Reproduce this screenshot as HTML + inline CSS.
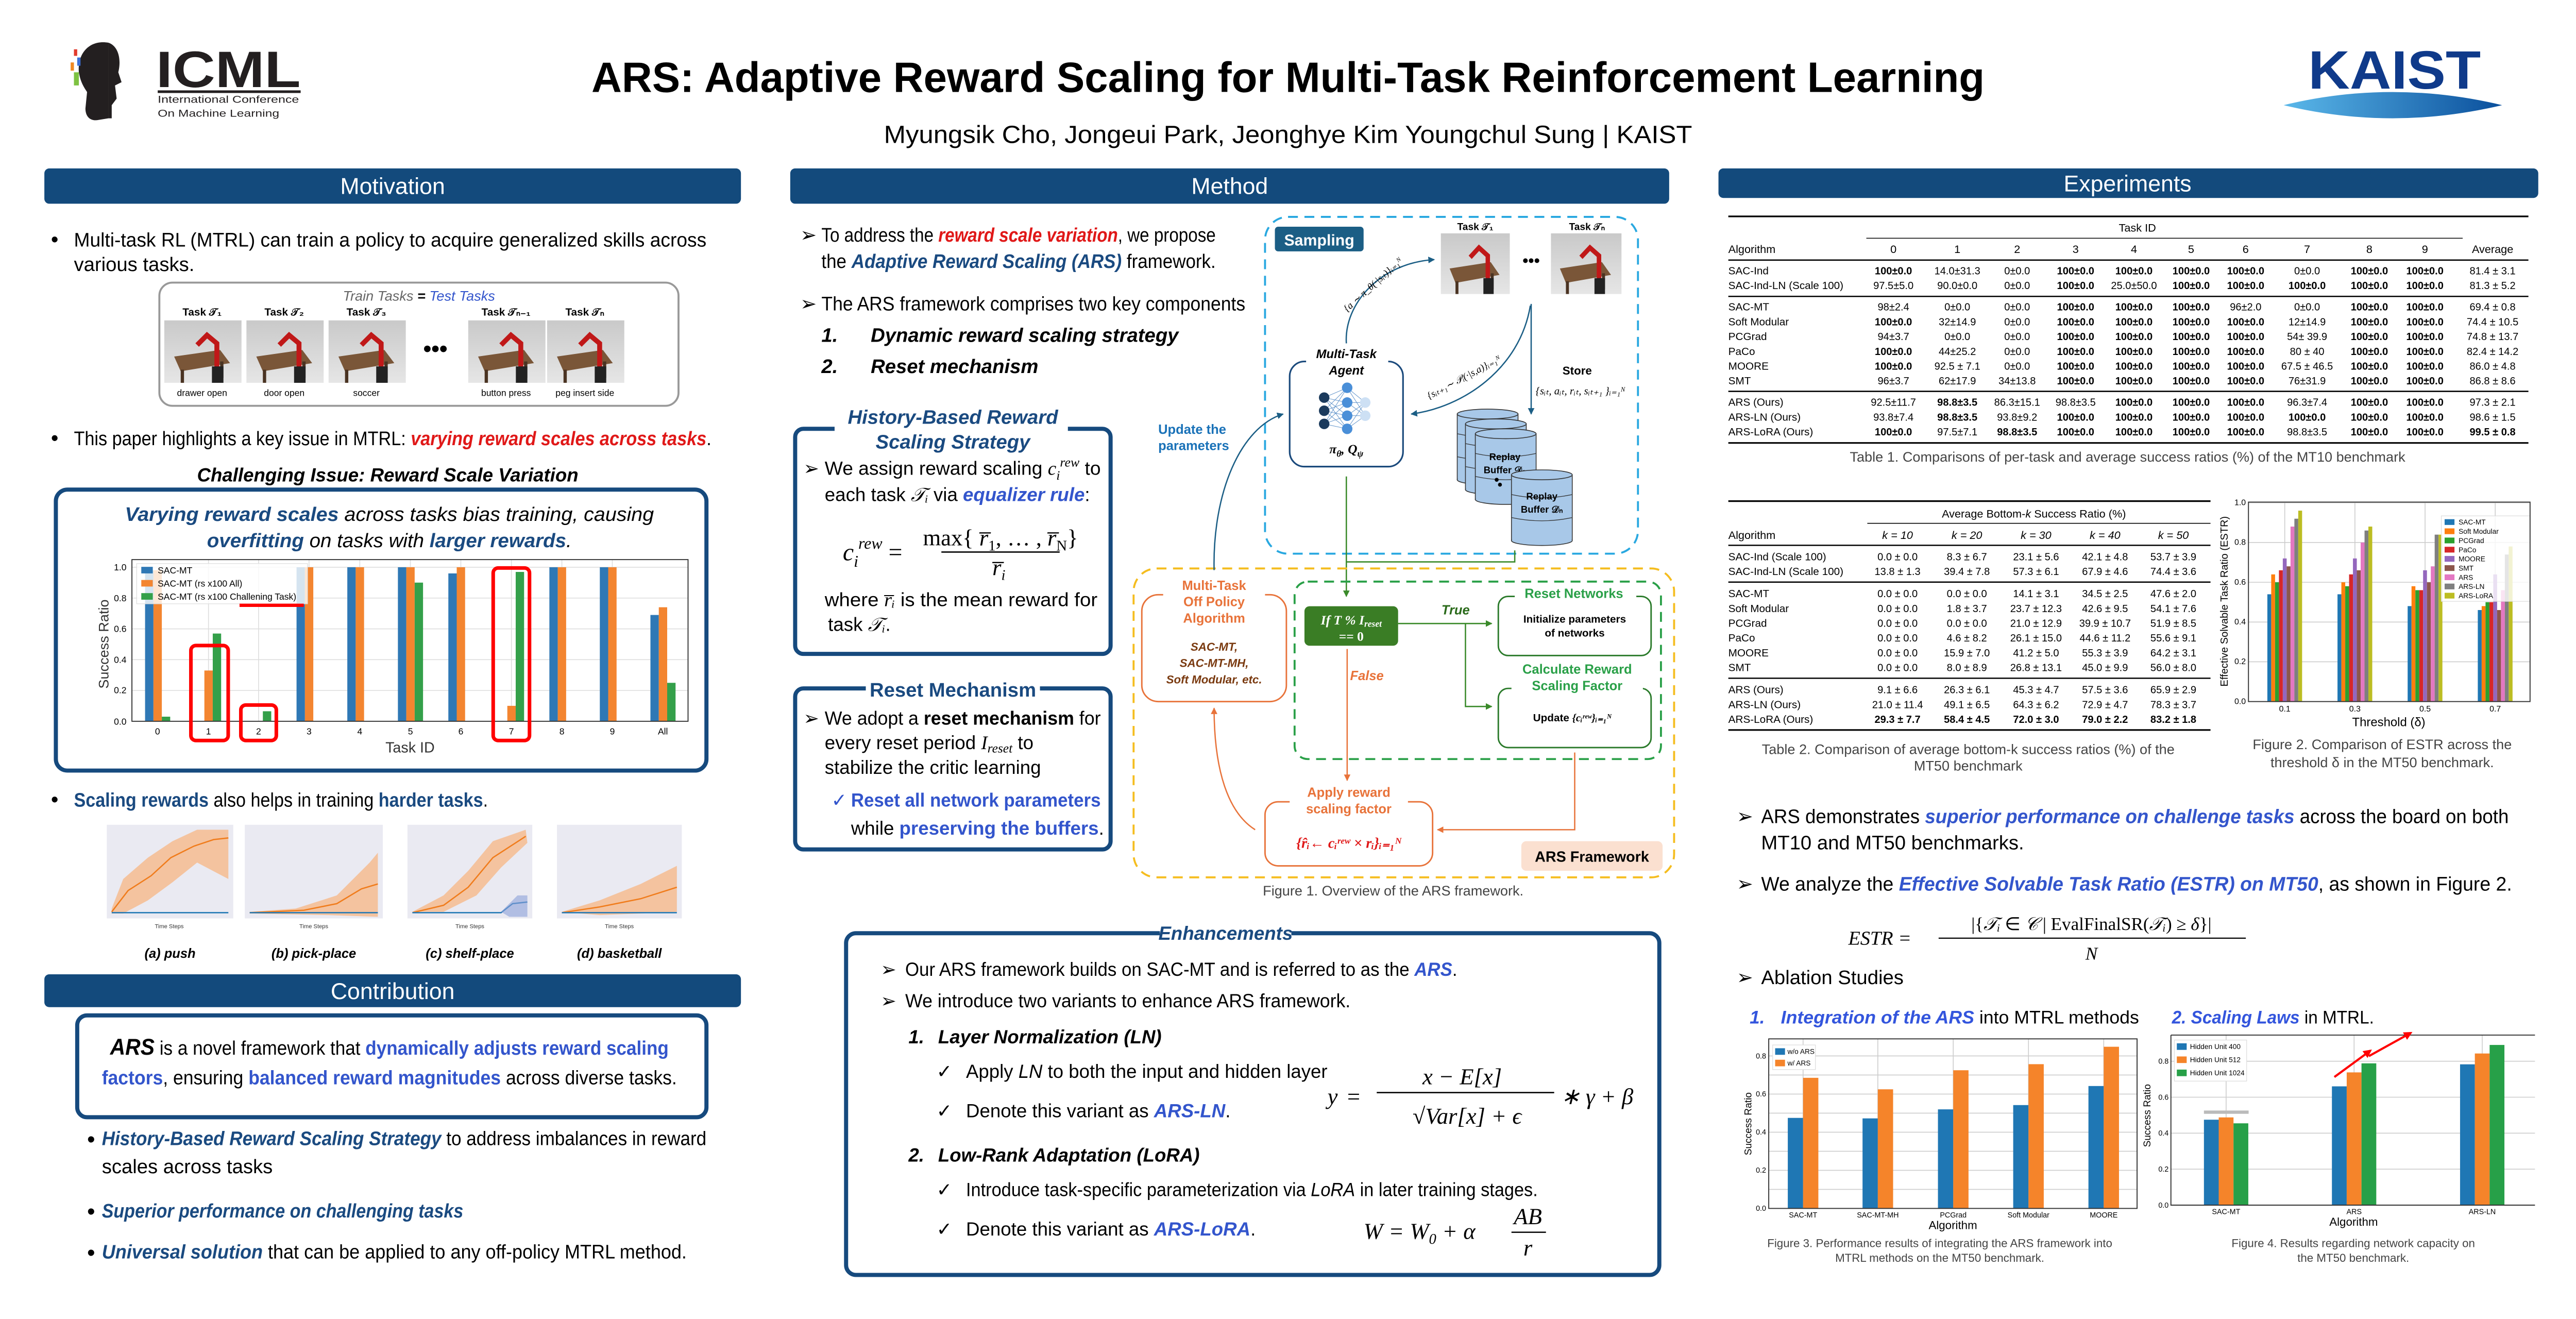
<!DOCTYPE html>
<html><head><meta charset="utf-8">
<style>
html,body{margin:0;padding:0;background:#fff;}
body{width:5120px;height:2560px;overflow:hidden;}
svg{display:block;}
text{font-family:"Liberation Sans",sans-serif;}
.s{font-family:"Liberation Serif",serif;}
</style></head>
<body>
<svg width="5120" height="2560" viewBox="0 0 1605.6 802.8" xmlns="http://www.w3.org/2000/svg">
<defs>
<marker id="ab" viewBox="0 0 10 10" refX="9" refY="5" markerWidth="5" markerHeight="5" orient="auto"><path d="M0,0 L10,5 L0,10 z" fill="#1b5e85"/></marker>
<marker id="ag" viewBox="0 0 10 10" refX="9" refY="5" markerWidth="5" markerHeight="5" orient="auto"><path d="M0,0 L10,5 L0,10 z" fill="#3a8a2a"/></marker>
<marker id="ao" viewBox="0 0 10 10" refX="9" refY="5" markerWidth="5" markerHeight="5" orient="auto"><path d="M0,0 L10,5 L0,10 z" fill="#e8733a"/></marker>
<marker id="ar" viewBox="0 0 10 10" refX="8" refY="5" markerWidth="4" markerHeight="4" orient="auto"><path d="M0,0 L10,5 L0,10 z" fill="#ff0000"/></marker>
<linearGradient id="eye" x1="0" x2="1"><stop offset="0" stop-color="#5bb8ea"/><stop offset="1" stop-color="#0a4f9c"/></linearGradient>
<linearGradient id="scene" x1="0" y1="0" x2="0" y2="1"><stop offset="0" stop-color="#c9c9c9"/><stop offset="1" stop-color="#e6e6e6"/></linearGradient>
<g id="img">
<rect width="47" height="38" fill="url(#scene)"/>
<polygon points="6,22 34,18 40,26 10,31" fill="#7a5638"/>
<rect x="10" y="30" width="2" height="8" fill="#4a3322"/><rect x="34" y="25" width="2" height="10" fill="#4a3322"/>
<path d="M32,30 L32,14 L26,9 L20,15" stroke="#c01818" stroke-width="3" fill="none"/>
<rect x="29" y="28" width="7" height="10" fill="#222"/>
</g>
<g id="cyl">
<rect x="0" y="3" width="37" height="40" fill="#a8c8e8" stroke="#333" stroke-width=".5"/>
<ellipse cx="18.5" cy="43" rx="18.5" ry="3" fill="#a8c8e8" stroke="#333" stroke-width=".5"/>
<rect x="0.3" y="3" width="36.4" height="40" fill="#a8c8e8"/>
<ellipse cx="18.5" cy="3" rx="18.5" ry="3" fill="#a8c8e8" stroke="#333" stroke-width=".5"/>
<path d="M0,15 Q18.5,19 37,15 M0,29 Q18.5,33 37,29" stroke="#333" stroke-width=".4" fill="none"/>
</g>
</defs>

<!-- HEADER -->
<path d="M66,26 C54,24 47,33 48,44 C49,50 51,53 53,56 L52,66 C52,71 55,74 60,73 L66,72 L66,26 z" fill="#231f20"/>
<path d="M66,26 C72,28 74,36 72,44 L74,50 L70,52 L71,60 L68,64 L68,72 L66,72z" fill="#231f20"/>
<rect x="45" y="30" width="2" height="4" fill="#e23b2e"/><rect x="47" y="35" width="2" height="5" fill="#3b6fd6"/>
<rect x="43" y="38" width="2" height="5" fill="#f08a24"/><rect x="45" y="44" width="3" height="8" fill="#7ec242"/>
<text x="95" y="53" font-size="31" font-weight="bold" fill="#231f20" textLength="88" lengthAdjust="spacingAndGlyphs">ICML</text>
<rect x="96" y="55" width="87" height="1.6" fill="#231f20"/>
<text x="96" y="62.5" font-size="6" fill="#231f20" textLength="86" lengthAdjust="spacingAndGlyphs">International Conference</text>
<text x="96" y="71" font-size="6" fill="#231f20" textLength="74" lengthAdjust="spacingAndGlyphs">On Machine Learning</text>

<text x="360" y="56" font-size="26" font-weight="bold" fill="#000" textLength="848" lengthAdjust="spacingAndGlyphs">ARS: Adaptive Reward Scaling for Multi-Task Reinforcement Learning</text>
<text x="538" y="87" font-size="15" fill="#000" textLength="492" lengthAdjust="spacingAndGlyphs">Myungsik Cho, Jongeui Park, Jeonghye Kim Youngchul Sung | KAIST</text>

<text x="1405" y="54" font-size="33" font-weight="bold" fill="#0f3a8a" textLength="105" lengthAdjust="spacingAndGlyphs">KAIST</text>
<path d="M1390,64 Q1456,48 1523,64 Q1456,80 1390,64 z" fill="url(#eye)"/>

<!-- SECTION BARS -->
<rect x="27" y="102.5" width="424" height="21.5" rx="3" fill="#134a7c"/>
<text x="239" y="118" font-size="14" fill="#fff" text-anchor="middle">Motivation</text>
<rect x="481" y="102.5" width="535" height="21.5" rx="3" fill="#134a7c"/>
<text x="748.5" y="118" font-size="14" fill="#fff" text-anchor="middle">Method</text>
<rect x="1046" y="102.5" width="499" height="18" rx="3" fill="#134a7c"/>
<text x="1295" y="116.5" font-size="14" fill="#fff" text-anchor="middle">Experiments</text>

<!-- LEFT COLUMN -->
<text x="31" y="150" font-size="13">•</text>
<text x="45" y="150" font-size="12" textLength="385" lengthAdjust="spacingAndGlyphs">Multi-task RL (MTRL) can train a policy to acquire generalized skills across</text>
<text x="45" y="165" font-size="12">various tasks.</text>

<rect x="97" y="172" width="316" height="75" rx="8" fill="#fff" stroke="#999" stroke-width="1.2"/>
<rect x="190" y="175" width="130" height="10" fill="#fff"/>
<text x="255" y="183" font-size="8.5" font-style="italic" text-anchor="middle" fill="#666"><tspan>Train Tasks</tspan><tspan fill="#000" font-weight="bold"> = </tspan><tspan fill="#3355cc">Test Tasks</tspan></text>
<text x="123" y="192" font-size="6.5" font-weight="bold" text-anchor="middle">Task 𝒯₁</text>
<text x="173" y="192" font-size="6.5" font-weight="bold" text-anchor="middle">Task 𝒯₂</text>
<text x="223" y="192" font-size="6.5" font-weight="bold" text-anchor="middle">Task 𝒯₃</text>
<text x="308" y="192" font-size="6.5" font-weight="bold" text-anchor="middle">Task 𝒯ₙ₋₁</text>
<text x="356" y="192" font-size="6.5" font-weight="bold" text-anchor="middle">Task 𝒯ₙ</text>
<use href="#img" x="100" y="195"/><use href="#img" x="150" y="195"/><use href="#img" x="200" y="195"/>
<use href="#img" x="285" y="195"/><use href="#img" x="333" y="195"/>
<text x="265" y="217" font-size="14" font-weight="bold" text-anchor="middle">•••</text>
<text x="123" y="241" font-size="5.5" text-anchor="middle">drawer open</text>
<text x="173" y="241" font-size="5.5" text-anchor="middle">door open</text>
<text x="223" y="241" font-size="5.5" text-anchor="middle">soccer</text>
<text x="308" y="241" font-size="5.5" text-anchor="middle">button press</text>
<text x="356" y="241" font-size="5.5" text-anchor="middle">peg insert side</text>

<text x="31" y="271" font-size="13">•</text>
<text x="45" y="271" font-size="12" textLength="388" lengthAdjust="spacingAndGlyphs">This paper highlights a key issue in MTRL: <tspan fill="#e01818" font-weight="bold" font-style="italic">varying reward scales across tasks</tspan>.</text>
<text x="236" y="293" font-size="11.5" font-weight="bold" font-style="italic" text-anchor="middle">Challenging Issue: Reward Scale Variation</text>

<rect x="34" y="298" width="396" height="171" rx="7" fill="#fff" stroke="#164a7e" stroke-width="2.5"/>
<text x="237" y="317" font-size="12" font-style="italic" text-anchor="middle" textLength="322" lengthAdjust="spacingAndGlyphs"><tspan fill="#1a4a80" font-weight="bold">Varying reward scales</tspan> across tasks bias training, causing</text>
<text x="237" y="333" font-size="12" font-style="italic" text-anchor="middle" textLength="222" lengthAdjust="spacingAndGlyphs"><tspan fill="#1a4a80" font-weight="bold">overfitting</tspan> on tasks with <tspan fill="#1a4a80" font-weight="bold">larger rewards</tspan>.</text>
<!-- chart 1 -->
<g stroke="#ddd" stroke-width=".5">
<line x1="80.3" x2="418.8" y1="420.25" y2="420.25"/><line x1="80.3" x2="418.8" y1="401.5" y2="401.5"/><line x1="80.3" x2="418.8" y1="382.75" y2="382.75"/><line x1="80.3" x2="418.8" y1="364" y2="364"/><line x1="80.3" x2="418.8" y1="345.25" y2="345.25"/>
<line x1="126.9" x2="126.9" y1="340.6" y2="439"/><line x1="157.4" x2="157.4" y1="340.6" y2="439"/><line x1="188.1" x2="188.1" y1="340.6" y2="439"/><line x1="219" x2="219" y1="340.6" y2="439"/><line x1="249.8" x2="249.8" y1="340.6" y2="439"/><line x1="280.5" x2="280.5" y1="340.6" y2="439"/><line x1="311.3" x2="311.3" y1="340.6" y2="439"/><line x1="342" x2="342" y1="340.6" y2="439"/><line x1="372.7" x2="372.7" y1="340.6" y2="439"/>
</g>
<g>
<rect x="88.3" y="347.1" width="5.1" height="91.9" fill="#2f78b5"/><rect x="93.4" y="347.1" width="5.1" height="91.9" fill="#f38530"/><rect x="98.5" y="436.2" width="5.1" height="2.8" fill="#34a04a"/>
<rect x="124.4" y="408.1" width="5.1" height="30.9" fill="#f38530"/><rect x="129.5" y="385.6" width="5.1" height="53.4" fill="#34a04a"/>
<rect x="160" y="432.9" width="5.1" height="6.1" fill="#34a04a"/>
<rect x="180.5" y="345.25" width="5.1" height="93.75" fill="#2f78b5"/><rect x="185.6" y="345.25" width="5.1" height="93.75" fill="#f38530"/>
<rect x="211.4" y="345.25" width="5.1" height="93.75" fill="#2f78b5"/><rect x="216.5" y="345.25" width="5.1" height="93.75" fill="#f38530"/>
<rect x="242.2" y="345.25" width="5.1" height="93.75" fill="#2f78b5"/><rect x="247.3" y="345.25" width="5.1" height="93.75" fill="#f38530"/><rect x="252.4" y="354.6" width="5.1" height="84.4" fill="#34a04a"/>
<rect x="272.9" y="349" width="5.1" height="90" fill="#2f78b5"/><rect x="278" y="345.25" width="5.1" height="93.75" fill="#f38530"/>
<rect x="308.8" y="429.6" width="5.1" height="9.4" fill="#f38530"/><rect x="313.9" y="348.1" width="5.1" height="90.9" fill="#34a04a"/>
<rect x="334.4" y="345.25" width="5.1" height="93.75" fill="#2f78b5"/><rect x="339.5" y="345.25" width="5.1" height="93.75" fill="#f38530"/>
<rect x="365.1" y="345.25" width="5.1" height="93.75" fill="#2f78b5"/><rect x="370.2" y="345.25" width="5.1" height="93.75" fill="#f38530"/>
<rect x="395.9" y="374.3" width="5.1" height="64.7" fill="#2f78b5"/><rect x="401" y="369.6" width="5.1" height="69.4" fill="#f38530"/><rect x="406.1" y="415.6" width="5.1" height="23.4" fill="#34a04a"/>
</g>
<rect x="80.3" y="340.6" width="338.5" height="98.4" fill="none" stroke="#333" stroke-width=".6"/>
<rect x="83.2" y="343" width="104" height="24.5" fill="#fff" fill-opacity=".8" stroke="#ddd" stroke-width=".4"/>
<rect x="86" y="345" width="7" height="4" fill="#2f78b5"/><text x="96" y="349" font-size="5.5">SAC-MT</text>
<rect x="86" y="353" width="7" height="4" fill="#f38530"/><text x="96" y="357" font-size="5.5">SAC-MT (rs x100 All)</text>
<rect x="86" y="361" width="7" height="4" fill="#34a04a"/><text x="96" y="365" font-size="5.5">SAC-MT (rs x100 Challening Task)</text>
<line x1="145.8" x2="184.9" y1="368.4" y2="368.4" stroke="#f00" stroke-width="2"/>
<g fill="none" stroke="#f00" stroke-width="2.2">
<rect x="116.2" y="392.9" width="22.7" height="57.8" rx="3"/>
<rect x="146.6" y="429.1" width="21.6" height="21.6" rx="3"/>
<rect x="300.2" y="345.7" width="22.1" height="105" rx="3"/>
</g>
<g font-size="5.5" text-anchor="end"><text x="77" y="441">0.0</text><text x="77" y="422">0.2</text><text x="77" y="403.5">0.4</text><text x="77" y="384.7">0.6</text><text x="77" y="366">0.8</text><text x="77" y="347.2">1.0</text></g>
<g font-size="5.5" text-anchor="middle"><text x="95.9" y="447">0</text><text x="126.9" y="447">1</text><text x="157.4" y="447">2</text><text x="188.1" y="447">3</text><text x="219" y="447">4</text><text x="249.8" y="447">5</text><text x="280.5" y="447">6</text><text x="311.3" y="447">7</text><text x="342" y="447">8</text><text x="372.7" y="447">9</text><text x="403.5" y="447">All</text></g>
<text x="249.6" y="458" font-size="9" text-anchor="middle" fill="#333">Task ID</text>
<text transform="translate(66,392) rotate(-90)" font-size="8.5" text-anchor="middle" fill="#333">Success Ratio</text>

<text x="31" y="491" font-size="13">•</text>
<text x="45" y="491" font-size="12" textLength="252" lengthAdjust="spacingAndGlyphs"><tspan fill="#1a4a80" font-weight="bold">Scaling rewards</tspan> also helps in training <tspan fill="#1a4a80" font-weight="bold">harder tasks</tspan>.</text>

<!-- 4 small plots -->
<g>
<rect x="65" y="502" width="77" height="57" fill="#eaeaf2"/>
<path d="M68,553 L75,535 L90,522 L105,512 L120,505 L139,505 L139,535 L120,525 L105,537 L90,548 L75,556 L68,556z" fill="#f6b98a" opacity=".8"/>
<path d="M68,555 L78,542 L92,533 L104,522 L118,515 L130,511 L139,510" stroke="#f07c1c" stroke-width=".8" fill="none"/>
<line x1="68" x2="139" y1="555.5" y2="555.5" stroke="#1f77b4" stroke-width=".8"/>
<rect x="149" y="502" width="84" height="57" fill="#eaeaf2"/>
<path d="M152,555 L180,553 L205,545 L225,525 L230,519 L230,558 L200,557 L152,556z" fill="#f6b98a" opacity=".8"/>
<path d="M152,555.5 L185,554 L205,550 L220,541 L230,538" stroke="#f07c1c" stroke-width=".8" fill="none"/>
<line x1="152" x2="230" y1="555.5" y2="555.5" stroke="#1f77b4" stroke-width=".8"/>
<rect x="248" y="502" width="76" height="57" fill="#eaeaf2"/>
<path d="M251,555 L270,545 L285,530 L300,512 L320,505 L321,513 L305,528 L290,545 L270,555z" fill="#f6b98a" opacity=".8"/>
<path d="M251,555.5 L270,551 L285,540 L300,522 L320,509" stroke="#f07c1c" stroke-width=".8" fill="none"/>
<path d="M251,555.5 L305,555.5 L312,550 L321,549" stroke="#1f77b4" stroke-width=".8" fill="none"/>
<path d="M305,555 L315,545 L321,545 L321,558 L310,558z" fill="#8aa0d8" opacity=".6"/>
<rect x="339" y="502" width="76" height="57" fill="#eaeaf2"/>
<path d="M342,555 L365,548 L390,538 L412,527 L412,555 L390,556 L365,557z" fill="#f6b98a" opacity=".8"/>
<path d="M342,555.5 L365,552 L390,547 L412,540" stroke="#f07c1c" stroke-width=".8" fill="none"/>
<line x1="342" x2="412" y1="555.5" y2="555.5" stroke="#1f77b4" stroke-width=".8"/>
</g>
<g font-size="3.5" fill="#333" text-anchor="middle"><text x="103" y="565">Time Steps</text><text x="191" y="565">Time Steps</text><text x="286" y="565">Time Steps</text><text x="377" y="565">Time Steps</text></g>
<g font-size="8" font-weight="bold" font-style="italic" text-anchor="middle"><text x="103.5" y="583">(a) push</text><text x="191" y="583">(b) pick-place</text><text x="286" y="583">(c) shelf-place</text><text x="377" y="583">(d) basketball</text></g>

<rect x="27" y="593" width="424" height="20" rx="3" fill="#134a7c"/>
<text x="239" y="608" font-size="14" fill="#fff" text-anchor="middle">Contribution</text>
<rect x="47" y="618" width="383" height="62" rx="6" fill="#fff" stroke="#164a7e" stroke-width="2.5"/>
<text x="237" y="642" font-size="12" text-anchor="middle" textLength="340" lengthAdjust="spacingAndGlyphs"><tspan font-size="14" font-weight="bold" font-style="italic">ARS</tspan> is a novel framework that <tspan fill="#3355cc" font-weight="bold">dynamically adjusts reward scaling</tspan></text>
<text x="237" y="660" font-size="12" text-anchor="middle" textLength="350" lengthAdjust="spacingAndGlyphs"><tspan fill="#3355cc" font-weight="bold">factors</tspan>, ensuring <tspan fill="#3355cc" font-weight="bold">balanced reward magnitudes</tspan> across diverse tasks.</text>

<text x="53" y="698" font-size="14">•</text>
<text x="62" y="697" font-size="12" textLength="368" lengthAdjust="spacingAndGlyphs"><tspan fill="#1a4a80" font-weight="bold" font-style="italic">History-Based Reward Scaling Strategy</tspan> to address imbalances in reward</text>
<text x="62" y="714" font-size="12">scales across tasks</text>
<text x="53" y="742" font-size="14">•</text>
<text x="62" y="741" font-size="12" fill="#1a4a80" font-weight="bold" font-style="italic" textLength="220" lengthAdjust="spacingAndGlyphs">Superior performance on challenging tasks</text>
<text x="53" y="767" font-size="14">•</text>
<text x="62" y="766" font-size="12" textLength="356" lengthAdjust="spacingAndGlyphs"><tspan fill="#1a4a80" font-weight="bold" font-style="italic">Universal solution</tspan> that can be applied to any off-policy MTRL method.</text>

<!-- MIDDLE COLUMN -->
<g font-size="12">
<text x="487" y="147">➢</text>
<text x="500" y="147" textLength="240" lengthAdjust="spacingAndGlyphs">To address the <tspan fill="#e01818" font-weight="bold" font-style="italic">reward scale variation</tspan>, we propose</text>
<text x="500" y="163" textLength="240" lengthAdjust="spacingAndGlyphs">the <tspan fill="#1a4a80" font-weight="bold" font-style="italic">Adaptive Reward Scaling (ARS)</tspan> framework.</text>
<text x="487" y="189">➢</text>
<text x="500" y="189" textLength="258" lengthAdjust="spacingAndGlyphs">The ARS framework comprises two key components</text>
<text x="500" y="208" font-weight="bold" font-style="italic">1.</text><text x="530" y="208" font-weight="bold" font-style="italic">Dynamic reward scaling strategy</text>
<text x="500" y="227" font-weight="bold" font-style="italic">2.</text><text x="530" y="227" font-weight="bold" font-style="italic">Reset mechanism</text>
</g>

<rect x="484" y="261" width="192" height="137" rx="5" fill="#fff" stroke="#164a7e" stroke-width="2.5"/>
<rect x="508" y="250" width="142" height="20" fill="#fff"/>
<text x="580" y="258" font-size="12" font-weight="bold" font-style="italic" fill="#1a4a80" text-anchor="middle">History-Based Reward</text>
<text x="580" y="273" font-size="12" font-weight="bold" font-style="italic" fill="#1a4a80" text-anchor="middle">Scaling Strategy</text>
<g font-size="11.5">
<text x="489" y="289">➢</text>
<text x="502" y="289" textLength="168" lengthAdjust="spacingAndGlyphs">We assign reward scaling <tspan class="s" font-style="italic">c<tspan font-size="8" dy="3">i</tspan><tspan font-size="8" dy="-8">rew</tspan></tspan><tspan dy="5"> to</tspan></text>
<text x="502" y="305">each task <tspan class="s" font-style="italic">𝒯ᵢ</tspan> via <tspan fill="#3355cc" font-weight="bold" font-style="italic">equalizer rule</tspan>:</text>
</g>
<text x="513" y="341" class="s" font-size="15" font-style="italic">c<tspan font-size="10" dy="4">i</tspan><tspan font-size="10" dy="-11">rew</tspan><tspan dy="7" font-style="normal"> =</tspan></text>
<text x="609" y="332" class="s" font-size="14" text-anchor="middle">max{ <tspan font-style="italic">r̅</tspan><tspan font-size="9" dy="3">1</tspan><tspan dy="-3">, … , </tspan><tspan font-style="italic">r̅</tspan><tspan font-size="9" dy="3">N</tspan><tspan dy="-3">}</tspan></text>
<line x1="573" x2="645" y1="336" y2="336" stroke="#000" stroke-width=".8"/>
<text x="608" y="350" class="s" font-size="14" font-style="italic" text-anchor="middle">r̅<tspan font-size="9" dy="3">i</tspan></text>
<text x="502" y="369" font-size="11.5" textLength="166" lengthAdjust="spacingAndGlyphs">where <tspan class="s" font-style="italic">r̅ᵢ</tspan> is the mean reward for</text>
<text x="504" y="384" font-size="11.5">task <tspan class="s" font-style="italic">𝒯ᵢ</tspan>.</text>

<rect x="484" y="419" width="192" height="98" rx="5" fill="#fff" stroke="#164a7e" stroke-width="2.5"/>
<rect x="527" y="412" width="106" height="14" fill="#fff"/>
<text x="580" y="424" font-size="12" font-weight="bold" fill="#1a4a80" text-anchor="middle">Reset  Mechanism</text>
<g font-size="11.5">
<text x="489" y="441">➢</text>
<text x="502" y="441" textLength="168" lengthAdjust="spacingAndGlyphs">We adopt a <tspan font-weight="bold">reset mechanism</tspan> for</text>
<text x="502" y="456">every reset period <tspan class="s" font-style="italic">I<tspan font-size="8" dy="2">reset</tspan></tspan><tspan dy="-2"> to</tspan></text>
<text x="502" y="471">stabilize the critic learning</text>
<text x="506" y="491" fill="#3355cc">✓</text>
<text x="518" y="491" fill="#3355cc" font-weight="bold" textLength="152" lengthAdjust="spacingAndGlyphs">Reset all network parameters</text>
<text x="518" y="508">while <tspan fill="#3355cc" font-weight="bold">preserving the buffers</tspan>.</text>
</g>

<!-- DIAGRAM -->
<rect x="770" y="132" width="227" height="205" rx="14" fill="none" stroke="#29a8e0" stroke-width="1.2" stroke-dasharray="6,4"/>
<rect x="776" y="138" width="54" height="15" rx="2" fill="#1b5e85"/>
<text x="803" y="149.5" font-size="9.5" font-weight="bold" fill="#fff" text-anchor="middle">Sampling</text>
<text x="898" y="140" font-size="6" font-weight="bold" text-anchor="middle">Task 𝒯₁</text>
<text x="966" y="140" font-size="6" font-weight="bold" text-anchor="middle">Task 𝒯ₙ</text>
<svg x="877" y="142" width="42" height="37" viewBox="0 0 47 38" preserveAspectRatio="none"><use href="#img"/></svg>
<svg x="944" y="142" width="43" height="37" viewBox="0 0 47 38" preserveAspectRatio="none"><use href="#img"/></svg>
<text x="932" y="162" font-size="10" font-weight="bold" text-anchor="middle">•••</text>
<path d="M819.5,209 C818,185 840,160 873,158" stroke="#1b5e85" stroke-width=".8" fill="none" marker-end="url(#ab)"/>
<text transform="translate(820,190) rotate(-42)" class="s" font-size="6" font-style="italic">{a ∼ π_θ(·|sᵢₜ)}ᵢ₌₁ᴺ</text>
<path d="M931.5,186 C925,225 890,248 859,252" stroke="#1b5e85" stroke-width=".8" fill="none" marker-end="url(#ab)"/>
<text transform="translate(870,243) rotate(-28)" class="s" font-size="6" font-style="italic">{sᵢₜ₊₁∼ 𝒫ᵢ(·|s,a)}ᵢ₌₁ᴺ</text>
<line x1="932" y1="185" x2="932" y2="252" stroke="#1b5e85" stroke-width=".8" marker-end="url(#ab)"/>
<text x="960" y="228" font-size="7" font-weight="bold" text-anchor="middle">Store</text>
<text x="962" y="240" class="s" font-size="6.5" font-style="italic" text-anchor="middle">{sᵢₜ, aᵢₜ, rᵢₜ, sᵢₜ₊₁ }ᵢ₌₁ᴺ</text>

<rect x="785" y="220" width="69" height="64" rx="9" fill="#fff" stroke="#1b4a7c" stroke-width="1"/>
<rect x="795" y="211" width="50" height="18" fill="#fff"/>
<text x="819.5" y="218" font-size="7.5" font-weight="bold" font-style="italic" text-anchor="middle">Multi-Task</text>
<text x="819.5" y="228" font-size="7.5" font-weight="bold" font-style="italic" text-anchor="middle">Agent</text>
<g stroke="#5a8fc8" stroke-width=".3">
<path d="M806,242 L820,236 M806,242 L820,245 M806,242 L820,253 M806,242 L820,261 M806,250 L820,236 M806,250 L820,245 M806,250 L820,253 M806,250 L820,261 M806,258 L820,236 M806,258 L820,245 M806,258 L820,253 M806,258 L820,261 M820,236 L831,245 M820,245 L831,245 M820,253 L831,245 M820,261 L831,245 M820,236 L831,253 M820,245 L831,253 M820,253 L831,253 M820,261 L831,253"/>
</g>
<g fill="#1b3a5c"><circle cx="806" cy="242" r="3.2"/><circle cx="806" cy="250" r="3.2"/><circle cx="806" cy="258" r="3.2"/></g>
<g fill="#4a8fd8"><circle cx="820" cy="236" r="3.2"/><circle cx="820" cy="245" r="3.2"/><circle cx="820" cy="253" r="3.2"/><circle cx="820" cy="261" r="3.2"/></g>
<g fill="#cde0f4"><circle cx="831" cy="245" r="3.2"/><circle cx="831" cy="253" r="3.2"/></g>
<text x="819.5" y="276" class="s" font-size="8" font-weight="bold" font-style="italic" text-anchor="middle">π<tspan font-size="5.5" dy="2">θ</tspan><tspan dy="-2">, Q</tspan><tspan font-size="5.5" dy="2">ψ</tspan></text>

<use href="#cyl" x="887" y="249"/><use href="#cyl" x="892" y="255"/><use href="#cyl" x="898" y="261"/>
<text x="916" y="280" font-size="5.8" font-weight="bold" text-anchor="middle">Replay</text>
<text x="916" y="288" font-size="5.8" font-weight="bold" text-anchor="middle">Buffer 𝒟₂</text>
<circle cx="911" cy="292" r="1.2"/><circle cx="913" cy="295" r="1.2"/>
<use href="#cyl" x="920" y="286"/>
<text x="938.5" y="304" font-size="5.8" font-weight="bold" text-anchor="middle">Replay</text>
<text x="938.5" y="312" font-size="5.8" font-weight="bold" text-anchor="middle">Buffer 𝒟ₙ</text>

<path d="M819.5,290 L819.5,363" stroke="#3a8a2a" stroke-width=".8" fill="none" marker-end="url(#ag)"/>
<path d="M922,335 L922,342 L819.5,342" stroke="#3a8a2a" stroke-width=".8" fill="none"/>

<rect x="690" y="346" width="329" height="188" rx="14" fill="none" stroke="#f5bd1f" stroke-width="1.2" stroke-dasharray="6,4"/>
<rect x="788" y="354" width="223" height="108" rx="8" fill="none" stroke="#2aa048" stroke-width="1.2" stroke-dasharray="6,4"/>
<rect x="794" y="369" width="57" height="24" rx="3" fill="#3a7d25"/>
<text x="822.5" y="380" class="s" font-size="8" font-weight="bold" font-style="italic" fill="#fff" text-anchor="middle">If T % I<tspan font-size="5.5" dy="1.5">reset</tspan></text>
<text x="822.5" y="390" class="s" font-size="8" font-weight="bold" fill="#fff" text-anchor="middle">== 0</text>
<text x="886" y="374" font-size="8" font-weight="bold" font-style="italic" fill="#2a6a1a" text-anchor="middle">True</text>
<line x1="851" y1="379.5" x2="908" y2="379.5" stroke="#3a8a2a" stroke-width=".8" marker-end="url(#ag)"/>
<path d="M892,379.5 L892,430 L908,430" stroke="#3a8a2a" stroke-width=".8" fill="none" marker-end="url(#ag)"/>
<rect x="912" y="363" width="93" height="36" rx="6" fill="#fff" stroke="#2a7a2a" stroke-width=".9"/>
<rect x="922" y="356" width="74" height="10" fill="#fff"/>
<text x="958" y="364" font-size="8" font-weight="bold" fill="#2aa048" text-anchor="middle">Reset Networks</text>
<text x="958.5" y="379" font-size="6.5" font-weight="bold" text-anchor="middle">Initialize parameters</text>
<text x="958.5" y="387.5" font-size="6.5" font-weight="bold" text-anchor="middle">of networks</text>
<rect x="912" y="419" width="93" height="36" rx="6" fill="#fff" stroke="#2a7a2a" stroke-width=".9"/>
<rect x="920" y="402" width="80" height="20" fill="#fff"/>
<text x="960" y="410" font-size="8" font-weight="bold" fill="#2aa048" text-anchor="middle">Calculate Reward</text>
<text x="960" y="420" font-size="8" font-weight="bold" fill="#2aa048" text-anchor="middle">Scaling Factor</text>
<text x="957" y="439" font-size="6.5" font-weight="bold" text-anchor="middle">Update <tspan class="s" font-style="italic">{cᵢʳᵉʷ}ᵢ₌₁ᴺ</tspan></text>

<rect x="695" y="362" width="88" height="65" rx="10" fill="#fff" stroke="#e8733a" stroke-width=".9"/>
<rect x="708" y="352" width="62" height="30" fill="#fff"/>
<text x="739" y="359" font-size="8" font-weight="bold" fill="#e8733a" text-anchor="middle">Multi-Task</text>
<text x="739" y="369" font-size="8" font-weight="bold" fill="#e8733a" text-anchor="middle">Off Policy</text>
<text x="739" y="379" font-size="8" font-weight="bold" fill="#e8733a" text-anchor="middle">Algorithm</text>
<text x="739" y="396" font-size="7" font-weight="bold" font-style="italic" fill="#7a3a10" text-anchor="middle">SAC-MT,</text>
<text x="739" y="406" font-size="7" font-weight="bold" font-style="italic" fill="#7a3a10" text-anchor="middle">SAC-MT-MH,</text>
<text x="739" y="416" font-size="7" font-weight="bold" font-style="italic" fill="#7a3a10" text-anchor="middle">Soft Modular, etc.</text>

<line x1="820" y1="395" x2="820" y2="475" stroke="#e8733a" stroke-width=".8" marker-end="url(#ao)"/>
<text x="832" y="414" font-size="8" font-weight="bold" font-style="italic" fill="#e8733a" text-anchor="middle">False</text>

<rect x="770" y="488" width="102" height="39" rx="8" fill="#fff" stroke="#e8733a" stroke-width=".9"/>
<rect x="785" y="477" width="72" height="19" fill="#fff"/>
<text x="821" y="485" font-size="8" font-weight="bold" fill="#e8733a" text-anchor="middle">Apply reward</text>
<text x="821" y="495" font-size="8" font-weight="bold" fill="#e8733a" text-anchor="middle">scaling factor</text>
<text x="821" y="516" class="s" font-size="9" font-weight="bold" font-style="italic" fill="#e01818" text-anchor="middle">{r̂ᵢ← cᵢʳᵉʷ × rᵢ}ᵢ₌₁ᴺ</text>
<path d="M958.5,458 L958.5,505 L875,505" stroke="#e8733a" stroke-width=".8" fill="none" marker-end="url(#ao)"/>
<path d="M764,505 C748,495 739,470 739,431" stroke="#e8733a" stroke-width=".8" fill="none" marker-end="url(#ao)"/>
<path d="M739,347 C738,300 755,260 781,252" stroke="#1b5e85" stroke-width=".8" fill="none" marker-end="url(#ab)"/>
<text x="705" y="264" font-size="8" font-weight="bold" fill="#1a72b8">Update the</text>
<text x="705" y="274" font-size="8" font-weight="bold" fill="#1a72b8">parameters</text>
<rect x="926" y="512" width="86" height="18" rx="3" fill="#fbe0d0"/>
<text x="969" y="524.5" font-size="9" font-weight="bold" text-anchor="middle">ARS Framework</text>
<text x="848" y="545" font-size="8.5" fill="#444" text-anchor="middle">Figure 1. Overview of the ARS framework.</text>

<!-- ENHANCEMENTS -->
<rect x="515" y="568" width="495" height="208" rx="6" fill="#fff" stroke="#164a7e" stroke-width="2.5"/>
<rect x="706" y="560" width="80" height="14" fill="#fff"/>
<text x="746" y="572" font-size="11.5" font-weight="bold" font-style="italic" fill="#1a4a80" text-anchor="middle">Enhancements</text>
<g font-size="11.5">
<text x="536" y="594">➢</text>
<text x="551" y="594" textLength="336" lengthAdjust="spacingAndGlyphs">Our ARS framework builds on SAC-MT and is referred to as the <tspan fill="#3355cc" font-weight="bold" font-style="italic">ARS</tspan>.</text>
<text x="536" y="613">➢</text>
<text x="551" y="613" textLength="271" lengthAdjust="spacingAndGlyphs">We introduce two variants to enhance ARS framework.</text>
<text x="553" y="635" font-weight="bold" font-style="italic">1.</text><text x="571" y="635" font-weight="bold" font-style="italic">Layer Normalization (LN)</text>
<text x="570" y="656">✓</text><text x="588" y="656" textLength="220" lengthAdjust="spacingAndGlyphs">Apply <tspan font-style="italic">LN</tspan> to both the input and hidden layer</text>
<text x="570" y="680">✓</text><text x="588" y="680">Denote this variant as <tspan fill="#3355cc" font-weight="bold" font-style="italic">ARS-LN</tspan>.</text>
<text x="553" y="707" font-weight="bold" font-style="italic">2.</text><text x="571" y="707" font-weight="bold" font-style="italic">Low-Rank Adaptation (LoRA)</text>
<text x="570" y="728">✓</text><text x="588" y="728" textLength="348" lengthAdjust="spacingAndGlyphs">Introduce task-specific parameterization via <tspan font-style="italic">LoRA</tspan> in later training stages.</text>
<text x="570" y="752">✓</text><text x="588" y="752">Denote this variant as <tspan fill="#3355cc" font-weight="bold" font-style="italic">ARS-LoRA</tspan>.</text>
</g>
<g class="s" font-size="14">
<text x="808" y="672" class="s" font-style="italic">y</text><text x="820" y="672" class="s">=</text>
<text x="890" y="660" class="s" text-anchor="middle" font-style="italic">x − E[x]</text>
<line x1="838" x2="946" y1="665" y2="665" stroke="#000" stroke-width=".8"/>
<text x="893" y="684" class="s" text-anchor="middle" font-style="italic">√Var[x] + ϵ</text>
<text x="950" y="672" class="s" font-style="italic">∗ γ + β</text>
<text x="830" y="754" class="s" font-style="italic">W = W<tspan font-size="9" dy="3">0</tspan><tspan dy="-3"> + α</tspan></text>
<text x="930" y="745" class="s" font-style="italic" text-anchor="middle">AB</text>
<line x1="920" x2="941" y1="750" y2="750" stroke="#000" stroke-width=".8"/>
<text x="930" y="764" class="s" font-style="italic" text-anchor="middle">r</text>
</g>

<!-- RIGHT: TABLE 1 -->
<g stroke="#000">
<line x1="1052" x2="1539" y1="131.7" y2="131.7" stroke-width="1"/>
<line x1="1136" x2="1499" y1="145" y2="145" stroke-width=".5"/>
<line x1="1052" x2="1539" y1="158.3" y2="158.3" stroke-width=".8"/>
<line x1="1052" x2="1539" y1="180.4" y2="180.4" stroke-width=".8"/>
<line x1="1052" x2="1539" y1="238.2" y2="238.2" stroke-width=".8"/>
<line x1="1052" x2="1539" y1="269.6" y2="269.6" stroke-width="1"/>
</g>
<g font-size="6.8">
<text x="1301" y="141" text-anchor="middle">Task ID</text>
<text x="1052" y="154">Algorithm</text>
<g text-anchor="middle"><text x="1152.5" y="154">0</text><text x="1191.4" y="154">1</text><text x="1227.8" y="154">2</text><text x="1263.4" y="154">3</text><text x="1298.9" y="154">4</text><text x="1333.7" y="154">5</text><text x="1366.9" y="154">6</text><text x="1404.3" y="154">7</text><text x="1442.2" y="154">8</text><text x="1476" y="154">9</text><text x="1517.2" y="154">Average</text></g>
</g>
<g font-size="6.5">
<text x="1052" y="167">SAC-Ind</text><text x="1052" y="176">SAC-Ind-LN (Scale 100)</text>
<text x="1052" y="189">SAC-MT</text><text x="1052" y="198">Soft Modular</text><text x="1052" y="207">PCGrad</text><text x="1052" y="216">PaCo</text><text x="1052" y="225">MOORE</text><text x="1052" y="234">SMT</text>
<text x="1052" y="247">ARS (Ours)</text><text x="1052" y="256">ARS-LN (Ours)</text><text x="1052" y="265">ARS-LoRA (Ours)</text>
</g>
<g font-size="6.3" text-anchor="middle">
<g transform="translate(0,167)"><text x="1152.5" font-weight="bold">100±0.0</text><text x="1191.4">14.0±31.3</text><text x="1227.8">0±0.0</text><text x="1263.4" font-weight="bold">100±0.0</text><text x="1298.9" font-weight="bold">100±0.0</text><text x="1333.7" font-weight="bold">100±0.0</text><text x="1366.9" font-weight="bold">100±0.0</text><text x="1404.3">0±0.0</text><text x="1442.2" font-weight="bold">100±0.0</text><text x="1476" font-weight="bold">100±0.0</text><text x="1517.2">81.4 ± 3.1</text></g>
<g transform="translate(0,176)"><text x="1152.5">97.5±5.0</text><text x="1191.4">90.0±0.0</text><text x="1227.8">0±0.0</text><text x="1263.4" font-weight="bold">100±0.0</text><text x="1298.9">25.0±50.0</text><text x="1333.7" font-weight="bold">100±0.0</text><text x="1366.9" font-weight="bold">100±0.0</text><text x="1404.3" font-weight="bold">100±0.0</text><text x="1442.2" font-weight="bold">100±0.0</text><text x="1476" font-weight="bold">100±0.0</text><text x="1517.2">81.3 ± 5.2</text></g>
<g transform="translate(0,189)"><text x="1152.5">98±2.4</text><text x="1191.4">0±0.0</text><text x="1227.8">0±0.0</text><text x="1263.4" font-weight="bold">100±0.0</text><text x="1298.9" font-weight="bold">100±0.0</text><text x="1333.7" font-weight="bold">100±0.0</text><text x="1366.9">96±2.0</text><text x="1404.3">0±0.0</text><text x="1442.2" font-weight="bold">100±0.0</text><text x="1476" font-weight="bold">100±0.0</text><text x="1517.2">69.4 ± 0.8</text></g>
<g transform="translate(0,198)"><text x="1152.5" font-weight="bold">100±0.0</text><text x="1191.4">32±14.9</text><text x="1227.8">0±0.0</text><text x="1263.4" font-weight="bold">100±0.0</text><text x="1298.9" font-weight="bold">100±0.0</text><text x="1333.7" font-weight="bold">100±0.0</text><text x="1366.9" font-weight="bold">100±0.0</text><text x="1404.3">12±14.9</text><text x="1442.2" font-weight="bold">100±0.0</text><text x="1476" font-weight="bold">100±0.0</text><text x="1517.2">74.4 ± 10.5</text></g>
<g transform="translate(0,207)"><text x="1152.5">94±3.7</text><text x="1191.4">0±0.0</text><text x="1227.8">0±0.0</text><text x="1263.4" font-weight="bold">100±0.0</text><text x="1298.9" font-weight="bold">100±0.0</text><text x="1333.7" font-weight="bold">100±0.0</text><text x="1366.9" font-weight="bold">100±0.0</text><text x="1404.3">54± 39.9</text><text x="1442.2" font-weight="bold">100±0.0</text><text x="1476" font-weight="bold">100±0.0</text><text x="1517.2">74.8 ± 13.7</text></g>
<g transform="translate(0,216)"><text x="1152.5" font-weight="bold">100±0.0</text><text x="1191.4">44±25.2</text><text x="1227.8">0±0.0</text><text x="1263.4" font-weight="bold">100±0.0</text><text x="1298.9" font-weight="bold">100±0.0</text><text x="1333.7" font-weight="bold">100±0.0</text><text x="1366.9" font-weight="bold">100±0.0</text><text x="1404.3">80 ± 40</text><text x="1442.2" font-weight="bold">100±0.0</text><text x="1476" font-weight="bold">100±0.0</text><text x="1517.2">82.4 ± 14.2</text></g>
<g transform="translate(0,225)"><text x="1152.5" font-weight="bold">100±0.0</text><text x="1191.4">92.5 ± 7.1</text><text x="1227.8">0±0.0</text><text x="1263.4" font-weight="bold">100±0.0</text><text x="1298.9" font-weight="bold">100±0.0</text><text x="1333.7" font-weight="bold">100±0.0</text><text x="1366.9" font-weight="bold">100±0.0</text><text x="1404.3">67.5 ± 46.5</text><text x="1442.2" font-weight="bold">100±0.0</text><text x="1476" font-weight="bold">100±0.0</text><text x="1517.2">86.0 ± 4.8</text></g>
<g transform="translate(0,234)"><text x="1152.5">96±3.7</text><text x="1191.4">62±17.9</text><text x="1227.8">34±13.8</text><text x="1263.4" font-weight="bold">100±0.0</text><text x="1298.9" font-weight="bold">100±0.0</text><text x="1333.7" font-weight="bold">100±0.0</text><text x="1366.9" font-weight="bold">100±0.0</text><text x="1404.3">76±31.9</text><text x="1442.2" font-weight="bold">100±0.0</text><text x="1476" font-weight="bold">100±0.0</text><text x="1517.2">86.8 ± 8.6</text></g>
<g transform="translate(0,247)"><text x="1152.5">92.5±11.7</text><text x="1191.4" font-weight="bold">98.8±3.5</text><text x="1227.8">86.3±15.1</text><text x="1263.4">98.8±3.5</text><text x="1298.9" font-weight="bold">100±0.0</text><text x="1333.7" font-weight="bold">100±0.0</text><text x="1366.9" font-weight="bold">100±0.0</text><text x="1404.3">96.3±7.4</text><text x="1442.2" font-weight="bold">100±0.0</text><text x="1476" font-weight="bold">100±0.0</text><text x="1517.2">97.3 ± 2.1</text></g>
<g transform="translate(0,256)"><text x="1152.5">93.8±7.4</text><text x="1191.4" font-weight="bold">98.8±3.5</text><text x="1227.8">93.8±9.2</text><text x="1263.4" font-weight="bold">100±0.0</text><text x="1298.9" font-weight="bold">100±0.0</text><text x="1333.7" font-weight="bold">100±0.0</text><text x="1366.9" font-weight="bold">100±0.0</text><text x="1404.3" font-weight="bold">100±0.0</text><text x="1442.2" font-weight="bold">100±0.0</text><text x="1476" font-weight="bold">100±0.0</text><text x="1517.2">98.6 ± 1.5</text></g>
<g transform="translate(0,265)"><text x="1152.5" font-weight="bold">100±0.0</text><text x="1191.4">97.5±7.1</text><text x="1227.8" font-weight="bold">98.8±3.5</text><text x="1263.4" font-weight="bold">100±0.0</text><text x="1298.9" font-weight="bold">100±0.0</text><text x="1333.7" font-weight="bold">100±0.0</text><text x="1366.9" font-weight="bold">100±0.0</text><text x="1404.3">98.8±3.5</text><text x="1442.2" font-weight="bold">100±0.0</text><text x="1476" font-weight="bold">100±0.0</text><text x="1517.2" font-weight="bold">99.5 ± 0.8</text></g>
</g>
<text x="1295" y="281" font-size="8.5" fill="#444" text-anchor="middle">Table 1. Comparisons of per-task and average success ratios (%) of the MT10 benchmark</text>

<!-- TABLE 2 -->
<g stroke="#000">
<line x1="1052" x2="1345.5" y1="305" y2="305" stroke-width="1"/>
<line x1="1136.6" x2="1345.5" y1="318.5" y2="318.5" stroke-width=".5"/>
<line x1="1052" x2="1345.5" y1="331.9" y2="331.9" stroke-width=".8"/>
<line x1="1052" x2="1345.5" y1="354.3" y2="354.3" stroke-width=".8"/>
<line x1="1052" x2="1345.5" y1="412.8" y2="412.8" stroke-width=".8"/>
<line x1="1052" x2="1345.5" y1="444.3" y2="444.3" stroke-width="1"/>
</g>
<g font-size="6.8">
<text x="1238" y="315" text-anchor="middle">Average Bottom-<tspan font-style="italic">k</tspan> Success Ratio (%)</text>
<text x="1052" y="328">Algorithm</text>
<g text-anchor="middle" font-style="italic"><text x="1155" y="328">k = 10</text><text x="1197.2" y="328">k = 20</text><text x="1239.3" y="328">k = 30</text><text x="1281.3" y="328">k = 40</text><text x="1322.9" y="328">k = 50</text></g>
</g>
<g font-size="6.5">
<text x="1052" y="341">SAC-Ind (Scale 100)</text><text x="1052" y="350">SAC-Ind-LN (Scale 100)</text>
<text x="1052" y="363.5">SAC-MT</text><text x="1052" y="372.5">Soft Modular</text><text x="1052" y="381.5">PCGrad</text><text x="1052" y="390.5">PaCo</text><text x="1052" y="399.5">MOORE</text><text x="1052" y="408.5">SMT</text>
<text x="1052" y="422">ARS (Ours)</text><text x="1052" y="431">ARS-LN (Ours)</text><text x="1052" y="440">ARS-LoRA (Ours)</text>
</g>
<g font-size="6.3" text-anchor="middle">
<g transform="translate(0,341)"><text x="1155">0.0 ± 0.0</text><text x="1197.2">8.3 ± 6.7</text><text x="1239.3">23.1 ± 5.6</text><text x="1281.3">42.1 ± 4.8</text><text x="1322.9">53.7 ± 3.9</text></g>
<g transform="translate(0,350)"><text x="1155">13.8 ± 1.3</text><text x="1197.2">39.4 ± 7.8</text><text x="1239.3">57.3 ± 6.1</text><text x="1281.3">67.9 ± 4.6</text><text x="1322.9">74.4 ± 3.6</text></g>
<g transform="translate(0,363.5)"><text x="1155">0.0 ± 0.0</text><text x="1197.2">0.0 ± 0.0</text><text x="1239.3">14.1 ± 3.1</text><text x="1281.3">34.5 ± 2.5</text><text x="1322.9">47.6 ± 2.0</text></g>
<g transform="translate(0,372.5)"><text x="1155">0.0 ± 0.0</text><text x="1197.2">1.8 ± 3.7</text><text x="1239.3">23.7 ± 12.3</text><text x="1281.3">42.6 ± 9.5</text><text x="1322.9">54.1 ± 7.6</text></g>
<g transform="translate(0,381.5)"><text x="1155">0.0 ± 0.0</text><text x="1197.2">0.0 ± 0.0</text><text x="1239.3">21.0 ± 12.9</text><text x="1281.3">39.9 ± 10.7</text><text x="1322.9">51.9 ± 8.5</text></g>
<g transform="translate(0,390.5)"><text x="1155">0.0 ± 0.0</text><text x="1197.2">4.6 ± 8.2</text><text x="1239.3">26.1 ± 15.0</text><text x="1281.3">44.6 ± 11.2</text><text x="1322.9">55.6 ± 9.1</text></g>
<g transform="translate(0,399.5)"><text x="1155">0.0 ± 0.0</text><text x="1197.2">15.9 ± 7.0</text><text x="1239.3">41.2 ± 5.0</text><text x="1281.3">55.3 ± 3.9</text><text x="1322.9">64.2 ± 3.1</text></g>
<g transform="translate(0,408.5)"><text x="1155">0.0 ± 0.0</text><text x="1197.2">8.0 ± 8.9</text><text x="1239.3">26.8 ± 13.1</text><text x="1281.3">45.0 ± 9.9</text><text x="1322.9">56.0 ± 8.0</text></g>
<g transform="translate(0,422)"><text x="1155">9.1 ± 6.6</text><text x="1197.2">26.3 ± 6.1</text><text x="1239.3">45.3 ± 4.7</text><text x="1281.3">57.5 ± 3.6</text><text x="1322.9">65.9 ± 2.9</text></g>
<g transform="translate(0,431)"><text x="1155">21.0 ± 11.4</text><text x="1197.2">49.1 ± 6.5</text><text x="1239.3">64.3 ± 6.2</text><text x="1281.3">72.9 ± 4.7</text><text x="1322.9">78.3 ± 3.7</text></g>
<g transform="translate(0,440)" font-weight="bold"><text x="1155">29.3 ± 7.7</text><text x="1197.2">58.4 ± 4.5</text><text x="1239.3">72.0 ± 3.0</text><text x="1281.3">79.0 ± 2.2</text><text x="1322.9">83.2 ± 1.8</text></g>
</g>
<text x="1198" y="459" font-size="8.5" fill="#444" text-anchor="middle">Table 2. Comparison of average bottom-k success ratios (%) of the</text>
<text x="1198" y="469" font-size="8.5" fill="#444" text-anchor="middle">MT50 benchmark</text>

<!-- FIG 2 -->
<g stroke="#ccc" stroke-width=".5">
<line x1="1368.6" x2="1540" y1="402.8" y2="402.8"/><line x1="1368.6" x2="1540" y1="378.6" y2="378.6"/><line x1="1368.6" x2="1540" y1="354.4" y2="354.4"/><line x1="1368.6" x2="1540" y1="330.2" y2="330.2"/><line x1="1368.6" x2="1540" y1="306" y2="306"/>
<line x1="1390.7" x2="1390.7" y1="305.6" y2="427"/><line x1="1433.4" x2="1433.4" y1="305.6" y2="427"/><line x1="1476.1" x2="1476.1" y1="305.6" y2="427"/><line x1="1518.8" x2="1518.8" y1="305.6" y2="427"/>
</g>
<g>
<rect x="1380.1" y="361.7" width="2.35" height="65.3" fill="#1f77b4"/><rect x="1382.45" y="349.6" width="2.35" height="77.4" fill="#ff7f0e"/><rect x="1384.8" y="354.4" width="2.35" height="72.6" fill="#2ca02c"/><rect x="1387.15" y="347.1" width="2.35" height="79.9" fill="#d62728"/><rect x="1389.5" y="339.9" width="2.35" height="87.1" fill="#9467bd"/><rect x="1391.85" y="344.7" width="2.35" height="82.3" fill="#8c564b"/><rect x="1394.2" y="320.5" width="2.35" height="106.5" fill="#e377c2"/><rect x="1396.55" y="315.7" width="2.35" height="111.3" fill="#7f7f7f"/><rect x="1398.9" y="310.8" width="2.35" height="116.2" fill="#bcbd22"/>
<rect x="1422.8" y="361.7" width="2.35" height="65.3" fill="#1f77b4"/><rect x="1425.15" y="354.4" width="2.35" height="72.6" fill="#ff7f0e"/><rect x="1427.5" y="356.8" width="2.35" height="70.2" fill="#2ca02c"/><rect x="1429.85" y="349.6" width="2.35" height="77.4" fill="#d62728"/><rect x="1432.2" y="339.9" width="2.35" height="87.1" fill="#9467bd"/><rect x="1434.55" y="347.1" width="2.35" height="79.9" fill="#8c564b"/><rect x="1436.9" y="330.2" width="2.35" height="96.8" fill="#e377c2"/><rect x="1439.25" y="322.9" width="2.35" height="104.1" fill="#7f7f7f"/><rect x="1441.6" y="320.5" width="2.35" height="106.5" fill="#bcbd22"/>
<rect x="1465.5" y="368.9" width="2.35" height="58.1" fill="#1f77b4"/><rect x="1467.85" y="356.8" width="2.35" height="70.2" fill="#ff7f0e"/><rect x="1470.2" y="359.2" width="2.35" height="67.8" fill="#2ca02c"/><rect x="1472.55" y="359.2" width="2.35" height="67.8" fill="#d62728"/><rect x="1474.9" y="347.1" width="2.35" height="79.9" fill="#9467bd"/><rect x="1477.25" y="354.4" width="2.35" height="72.6" fill="#8c564b"/><rect x="1479.6" y="344.7" width="2.35" height="82.3" fill="#e377c2"/><rect x="1481.95" y="325.4" width="2.35" height="101.6" fill="#7f7f7f"/><rect x="1484.3" y="325.4" width="2.35" height="101.6" fill="#bcbd22"/>
<rect x="1508.2" y="371.3" width="2.35" height="55.7" fill="#1f77b4"/><rect x="1510.55" y="368.9" width="2.35" height="58.1" fill="#ff7f0e"/><rect x="1512.9" y="366.5" width="2.35" height="60.5" fill="#2ca02c"/><rect x="1515.25" y="366.5" width="2.35" height="60.5" fill="#d62728"/><rect x="1517.6" y="349.6" width="2.35" height="77.4" fill="#9467bd"/><rect x="1519.95" y="371.3" width="2.35" height="55.7" fill="#8c564b"/><rect x="1522.3" y="359.2" width="2.35" height="67.8" fill="#e377c2"/><rect x="1524.65" y="337.5" width="2.35" height="89.5" fill="#7f7f7f"/><rect x="1527" y="332.6" width="2.35" height="94.4" fill="#bcbd22"/>
</g>
<rect x="1486" y="314" width="54" height="52" fill="#fff" fill-opacity=".8" stroke="#ddd" stroke-width=".4"/>
<g font-size="4.3">
<rect x="1488" y="316" width="6" height="3.5" fill="#1f77b4"/><text x="1496.5" y="319.3">SAC-MT</text>
<rect x="1488" y="321.6" width="6" height="3.5" fill="#ff7f0e"/><text x="1496.5" y="324.9">Soft Modular</text>
<rect x="1488" y="327.2" width="6" height="3.5" fill="#2ca02c"/><text x="1496.5" y="330.5">PCGrad</text>
<rect x="1488" y="332.8" width="6" height="3.5" fill="#d62728"/><text x="1496.5" y="336.1">PaCo</text>
<rect x="1488" y="338.4" width="6" height="3.5" fill="#9467bd"/><text x="1496.5" y="341.7">MOORE</text>
<rect x="1488" y="344" width="6" height="3.5" fill="#8c564b"/><text x="1496.5" y="347.3">SMT</text>
<rect x="1488" y="349.6" width="6" height="3.5" fill="#e377c2"/><text x="1496.5" y="352.9">ARS</text>
<rect x="1488" y="355.2" width="6" height="3.5" fill="#7f7f7f"/><text x="1496.5" y="358.5">ARS-LN</text>
<rect x="1488" y="360.8" width="6" height="3.5" fill="#bcbd22"/><text x="1496.5" y="364.1">ARS-LoRA</text>
</g>
<rect x="1368.6" y="305.6" width="171.4" height="121.4" fill="none" stroke="#333" stroke-width=".6"/>
<g font-size="5" text-anchor="end"><text x="1367" y="428.5">0.0</text><text x="1367" y="404.3">0.2</text><text x="1367" y="380.1">0.4</text><text x="1367" y="355.9">0.6</text><text x="1367" y="331.7">0.8</text><text x="1367" y="307.5">1.0</text></g>
<g font-size="5" text-anchor="middle"><text x="1390.7" y="433">0.1</text><text x="1433.4" y="433">0.3</text><text x="1476.1" y="433">0.5</text><text x="1518.8" y="433">0.7</text></g>
<text x="1454" y="442" font-size="7.5" text-anchor="middle">Threshold (δ)</text>
<text transform="translate(1356,366) rotate(-90)" font-size="6.3" text-anchor="middle">Effective Solvable Task Ratio (ESTR)</text>
<text x="1450" y="456" font-size="8.5" fill="#444" text-anchor="middle">Figure 2. Comparison of ESTR across the</text>
<text x="1450" y="467" font-size="8.5" fill="#444" text-anchor="middle">threshold δ in the MT50 benchmark.</text>

<!-- RIGHT BULLETS -->
<g font-size="12">
<text x="1057" y="501">➢</text>
<text x="1072" y="501" textLength="455" lengthAdjust="spacingAndGlyphs">ARS demonstrates <tspan fill="#3355cc" font-weight="bold" font-style="italic">superior performance on challenge tasks</tspan> across the board on both</text>
<text x="1072" y="517">MT10 and MT50 benchmarks.</text>
<text x="1057" y="542">➢</text>
<text x="1072" y="542" textLength="457" lengthAdjust="spacingAndGlyphs">We analyze the <tspan fill="#3355cc" font-weight="bold" font-style="italic">Effective Solvable Task Ratio (ESTR) on MT50</tspan>, as shown in Figure 2.</text>
<text x="1057" y="599">➢</text>
<text x="1072" y="599">Ablation Studies</text>
</g>
<text x="1125" y="575" class="s" font-size="12" font-style="italic">ESTR =</text>
<text x="1273" y="566" class="s" font-size="11" text-anchor="middle">|{<tspan font-style="italic">𝒯ᵢ</tspan> ∈ <tspan font-style="italic">𝒞</tspan> | EvalFinalSR(<tspan font-style="italic">𝒯ᵢ</tspan>) ≥ <tspan font-style="italic">δ</tspan>}|</text>
<line x1="1180" x2="1367" y1="571" y2="571" stroke="#000" stroke-width=".7"/>
<text x="1273" y="584" class="s" font-size="11" font-style="italic" text-anchor="middle">N</text>

<text x="1065" y="623" font-size="11" font-weight="bold" font-style="italic" fill="#3355dd">1.</text>
<text x="1084" y="623" font-size="11" textLength="218" lengthAdjust="spacingAndGlyphs"><tspan font-weight="bold" font-style="italic" fill="#3355dd">Integration of the ARS</tspan> into MTRL methods</text>
<text x="1322" y="623" font-size="11" textLength="123" lengthAdjust="spacingAndGlyphs"><tspan font-weight="bold" font-style="italic" fill="#3355dd">2. Scaling Laws</tspan> in MTRL.</text>

<!-- FIG 3 -->
<g stroke="#ccc" stroke-width=".5">
<line x1="1076.6" x2="1300.8" y1="723.9" y2="723.9"/><line x1="1076.6" x2="1300.8" y1="712.3" y2="712.3"/><line x1="1076.6" x2="1300.8" y1="700.7" y2="700.7"/><line x1="1076.6" x2="1300.8" y1="689.1" y2="689.1"/><line x1="1076.6" x2="1300.8" y1="677.5" y2="677.5"/><line x1="1076.6" x2="1300.8" y1="665.9" y2="665.9"/><line x1="1076.6" x2="1300.8" y1="654.3" y2="654.3"/><line x1="1076.6" x2="1300.8" y1="642.7" y2="642.7"/>
<line x1="1097.5" x2="1097.5" y1="632.3" y2="735.5"/><line x1="1143" x2="1143" y1="632.3" y2="735.5"/><line x1="1188.9" x2="1188.9" y1="632.3" y2="735.5"/><line x1="1234.7" x2="1234.7" y1="632.3" y2="735.5"/><line x1="1280.5" x2="1280.5" y1="632.3" y2="735.5"/>
</g>
<g>
<rect x="1088.2" y="680.4" width="9.3" height="55.1" fill="#1f77b4"/><rect x="1097.5" y="656" width="9.3" height="79.5" fill="#f5842a"/>
<rect x="1133.7" y="680.7" width="9.3" height="54.8" fill="#1f77b4"/><rect x="1143" y="663" width="9.3" height="72.5" fill="#f5842a"/>
<rect x="1179.6" y="675.2" width="9.3" height="60.3" fill="#1f77b4"/><rect x="1188.9" y="651.4" width="9.3" height="84.1" fill="#f5842a"/>
<rect x="1225.4" y="672.6" width="9.3" height="62.9" fill="#1f77b4"/><rect x="1234.7" y="647.7" width="9.3" height="87.8" fill="#f5842a"/>
<rect x="1271.2" y="661" width="9.3" height="74.5" fill="#1f77b4"/><rect x="1280.5" y="637.1" width="9.3" height="98.4" fill="#f5842a"/>
</g>
<rect x="1076.6" y="632.3" width="224.2" height="103.2" fill="none" stroke="#333" stroke-width=".6"/>
<rect x="1079" y="636" width="26" height="15" fill="#fff" stroke="#ddd" stroke-width=".4"/>
<rect x="1080.5" y="638" width="6" height="4" fill="#1f77b4"/><text x="1088" y="641.5" font-size="4.3">w/o ARS</text>
<rect x="1080.5" y="645" width="6" height="4" fill="#f5842a"/><text x="1088" y="648.5" font-size="4.3">w/ ARS</text>
<g font-size="4.5" text-anchor="end"><text x="1075" y="737">0.0</text><text x="1075" y="713.8">0.2</text><text x="1075" y="690.6">0.4</text><text x="1075" y="667.4">0.6</text><text x="1075" y="644.2">0.8</text></g>
<g font-size="4.5" text-anchor="middle"><text x="1097.5" y="741">SAC-MT</text><text x="1143" y="741">SAC-MT-MH</text><text x="1188.9" y="741">PCGrad</text><text x="1234.7" y="741">Soft Modular</text><text x="1280.5" y="741">MOORE</text></g>
<text x="1188.7" y="748" font-size="7" text-anchor="middle">Algorithm</text>
<text transform="translate(1066,684) rotate(-90)" font-size="6" text-anchor="middle">Success Ratio</text>
<text x="1180.7" y="759" font-size="7" fill="#444" text-anchor="middle">Figure 3. Performance results of integrating the ARS framework into</text>
<text x="1180.7" y="768" font-size="7" fill="#444" text-anchor="middle">MTRL methods on the MT50 benchmark.</text>

<!-- FIG 4 -->
<g stroke="#ccc" stroke-width=".5">
<line x1="1321.4" x2="1543" y1="711.6" y2="711.6"/><line x1="1321.4" x2="1543" y1="689.7" y2="689.7"/><line x1="1321.4" x2="1543" y1="667.8" y2="667.8"/><line x1="1321.4" x2="1543" y1="645.9" y2="645.9"/>
<line x1="1355" x2="1355" y1="630" y2="733.5"/><line x1="1432.9" x2="1432.9" y1="630" y2="733.5"/><line x1="1510.9" x2="1510.9" y1="630" y2="733.5"/>
</g>
<line x1="1341.5" x2="1368.7" y1="676.9" y2="676.9" stroke="#bbb" stroke-width="2"/>
<g>
<rect x="1341.5" y="681.5" width="9" height="52" fill="#1f77b4"/><rect x="1350.5" y="680.1" width="9" height="53.4" fill="#f5842a"/><rect x="1359.5" y="683.7" width="9" height="49.8" fill="#27a048"/>
<rect x="1419.4" y="661.2" width="9" height="72.3" fill="#1f77b4"/><rect x="1428.4" y="652.7" width="9" height="80.8" fill="#f5842a"/><rect x="1437.4" y="647.2" width="9" height="86.3" fill="#27a048"/>
<rect x="1497.4" y="647.8" width="9" height="85.7" fill="#1f77b4"/><rect x="1506.4" y="641.2" width="9" height="92.3" fill="#f5842a"/><rect x="1515.4" y="636" width="9" height="97.5" fill="#27a048"/>
</g>
<path d="M1321.4,630 L1321.4,733.5 L1543,733.5 M1321.4,630 L1543,630" fill="none" stroke="#333" stroke-width=".6"/>
<rect x="1323.5" y="633" width="44" height="25" fill="#fff" stroke="#ddd" stroke-width=".4"/>
<g font-size="4.3">
<rect x="1325" y="635" width="6" height="4" fill="#1f77b4"/><text x="1333" y="638.5">Hidden Unit 400</text>
<rect x="1325" y="643" width="6" height="4" fill="#f5842a"/><text x="1333" y="646.5">Hidden Unit 512</text>
<rect x="1325" y="651" width="6" height="4" fill="#27a048"/><text x="1333" y="654.5">Hidden Unit 1024</text>
</g>
<line x1="1420.9" y1="655.5" x2="1442.9" y2="639.4" stroke="#f00" stroke-width="1.3" marker-end="url(#ar)"/>
<line x1="1441.9" y1="642.8" x2="1467.5" y2="628.6" stroke="#f00" stroke-width="1.3" marker-end="url(#ar)"/>
<g font-size="4.5" text-anchor="end"><text x="1320" y="735">0.0</text><text x="1320" y="713.1">0.2</text><text x="1320" y="691.2">0.4</text><text x="1320" y="669.3">0.6</text><text x="1320" y="647.4">0.8</text></g>
<g font-size="4.5" text-anchor="middle"><text x="1355" y="739">SAC-MT</text><text x="1432.9" y="739">ARS</text><text x="1510.9" y="739">ARS-LN</text></g>
<text x="1432.6" y="746" font-size="7" text-anchor="middle">Algorithm</text>
<text transform="translate(1309,679) rotate(-90)" font-size="6" text-anchor="middle">Success Ratio</text>
<text x="1432.4" y="759" font-size="7" fill="#444" text-anchor="middle">Figure 4. Results regarding network capacity on</text>
<text x="1432.4" y="768" font-size="7" fill="#444" text-anchor="middle">the MT50 benchmark.</text>
</svg>
</body></html>
